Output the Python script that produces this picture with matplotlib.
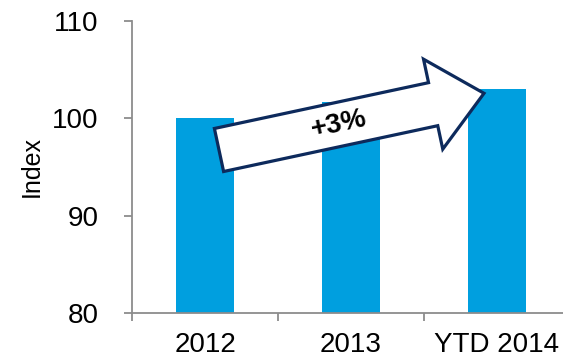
import numpy as np
import matplotlib
matplotlib.use('Agg')
import matplotlib.pyplot as plt
from matplotlib.patches import Polygon

plt.rcParams['font.family'] = ['Liberation Sans', 'DejaVu Sans']

categories = ['2012', '2013', 'YTD 2014']
index_values = [100.0, 101.7, 103.0]
y_ticks = [80, 90, 100, 110]
growth_label = '+3%'

W, H = 563, 362
fig = plt.figure(figsize=(W / 100, H / 100), dpi=100)
ax = fig.add_axes([132 / W, 1 - 313 / H, 438 / W, 292 / H])

x = np.arange(len(categories))
ax.bar(x, index_values, width=0.4, color='#009FDF', zorder=2)

ax.set_ylim(80, 110)
ax.set_xlim(-0.5, len(categories) - 0.5)
ax.set_yticks(y_ticks)
ax.set_xticks(x)
ax.set_xticklabels(categories)
ax.set_xticks(np.arange(len(categories) + 1) - 0.5, minor=True)

grey = '#8C8C8C'
for side in ['top', 'right']:
    ax.spines[side].set_visible(False)
for side in ['left', 'bottom']:
    ax.spines[side].set_color(grey)
    ax.spines[side].set_linewidth(1.3)
ax.tick_params(axis='y', direction='out', length=6, width=1.3, color=grey,
               labelsize=20, pad=18)
ax.tick_params(axis='x', which='major', length=0, labelsize=20, pad=14)
ax.tick_params(axis='x', which='minor', direction='out', length=6, width=1.3,
               color=grey)
ax.set_ylabel('Index', fontsize=18, labelpad=6)

# block arrow from the 2012 bar up to the YTD bar, built in pixel space
tail = np.array([219.0, 150.0])
tip = np.array([484.0, 93.3])
d = tip - tail
length = np.hypot(*d)
u = d / length
n = np.array([u[1], -u[0]])  # perpendicular, points "up" on screen
shaft_hw, head_hw, head_len = 22.0, 46.0, 52.0
base = tip - u * head_len
pts = [tail + n * shaft_hw, base + n * shaft_hw, base + n * head_hw, tip,
       base - n * head_hw, base - n * shaft_hw, tail - n * shaft_hw]
pts = [(p[0] / W, 1 - p[1] / H) for p in pts]
fig.patches.append(Polygon(pts, closed=True, transform=fig.transFigure,
                           facecolor='white', edgecolor='#0D2A5C',
                           linewidth=2.3, zorder=5))
angle = np.degrees(np.arctan2(-d[1], d[0]))
mid = tail + u * (length - head_len) * 0.56
fig.text(mid[0] / W, 1 - mid[1] / H, growth_label, rotation=angle,
         rotation_mode='anchor', ha='center', va='center',
         fontsize=20, fontweight='bold', zorder=6)

fig.savefig('out.png', dpi=100)
